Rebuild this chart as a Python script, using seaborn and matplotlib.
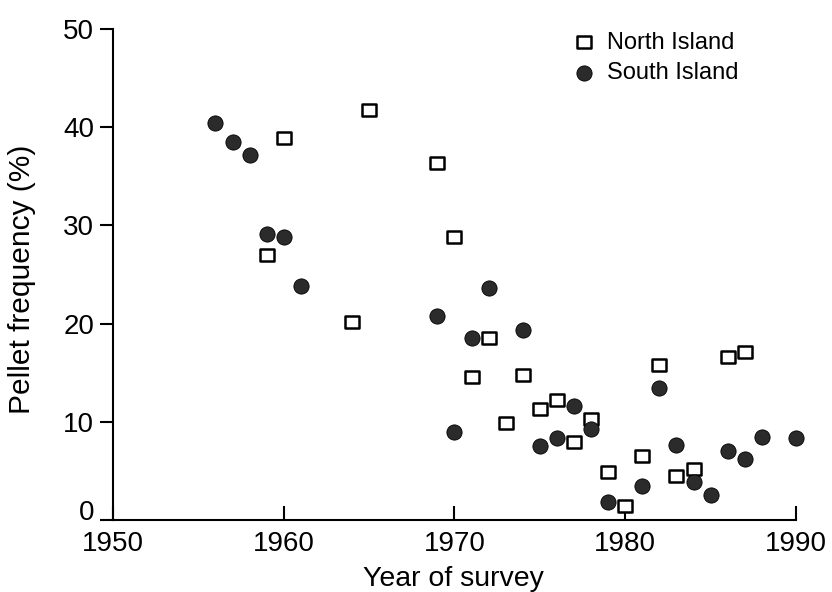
import matplotlib
matplotlib.use("Agg")
import matplotlib.pyplot as plt
from matplotlib.path import Path
import seaborn as sns
import pandas as pd

# ---- data ----
north_years = [1959, 1960, 1964, 1965, 1969, 1970, 1971, 1972, 1973, 1974, 1975,
               1976, 1977, 1978, 1979, 1980, 1981, 1982, 1983, 1984, 1986, 1987]
north_freq = [27.0, 38.9, 20.2, 41.8, 36.4, 28.8, 14.6, 18.5, 9.9, 14.8, 11.3,
              12.2, 7.9, 10.3, 4.9, 1.4, 6.5, 15.8, 4.5, 5.2, 16.6, 17.1]

south_years = [1956, 1957, 1958, 1959, 1960, 1961, 1969, 1970, 1971, 1972, 1974,
               1975, 1976, 1977, 1978, 1979, 1981, 1982, 1983, 1984, 1985, 1986,
               1987, 1988, 1990]
south_freq = [40.4, 38.5, 37.2, 29.1, 28.8, 23.8, 20.75, 9.0, 18.5, 23.6, 19.4,
              7.5, 8.4, 11.6, 9.3, 1.8, 3.5, 13.4, 7.6, 3.9, 2.5, 7.0,
              6.2, 8.5, 8.4]

x_ticks = [1950, 1960, 1970, 1980, 1990]
y_ticks = [0, 10, 20, 30, 40, 50]
series_names = ["North Island", "South Island"]

north = pd.DataFrame({"year": north_years, "freq": north_freq})
south = pd.DataFrame({"year": south_years, "freq": south_freq})

sns.set_theme(style="ticks")
plt.rcParams["font.family"] = ["Liberation Sans", "DejaVu Sans"]
for key in ["text.color", "axes.labelcolor", "xtick.color", "ytick.color",
            "axes.edgecolor"]:
    plt.rcParams[key] = "black"

fig = plt.figure(figsize=(8.32, 5.92), dpi=100)
ax = fig.add_axes([0.1358, 0.1216, 0.8209, 0.8294])

rect = Path([(-1.2, -1.0), (1.2, -1.0), (1.2, 1.0), (-1.2, 1.0), (-1.2, -1.0)],
            [Path.MOVETO, Path.LINETO, Path.LINETO, Path.LINETO, Path.CLOSEPOLY])

sns.scatterplot(data=north, x="year", y="freq", ax=ax, marker=rect, s=110,
                facecolor="white", edgecolor="black", linewidth=1.8,
                label=series_names[0], clip_on=False, zorder=3)
sns.scatterplot(data=south, x="year", y="freq", ax=ax, marker="o", s=120,
                color="#2b2b2b", edgecolor="black", linewidth=0.6,
                label=series_names[1], clip_on=False, zorder=3)

ax.set_xlim(1950, 1990)
ax.set_ylim(0, 50)
ax.set_xticks(x_ticks)
ax.set_yticks(y_ticks)

for side in ["top", "right"]:
    ax.spines[side].set_visible(False)
for side in ["left", "bottom"]:
    ax.spines[side].set_linewidth(1.5)
    ax.spines[side].set_color("black")

ax.tick_params(axis="x", direction="in", length=10, width=1.5, pad=8,
               labelsize=20)
ax.tick_params(axis="y", direction="out", length=9.5, width=1.5, pad=4,
               labelsize=20)

# the "0" label sits just above the bottom axis line
fig.canvas.draw()
for lab in ax.get_yticklabels():
    if lab.get_text() == "0":
        lab.set_va("baseline")

ax.set_xlabel("Year of survey", fontsize=20.5)
ax.set_ylabel("Pellet frequency (%)", fontsize=21.5)
ax.xaxis.set_label_coords(0.498, -0.094)
ax.yaxis.set_label_coords(-0.112, 0.491)

leg = ax.legend(loc="upper left", bbox_to_anchor=(0.651, 1.014), frameon=False,
                fontsize=17, handletextpad=0.3, handlelength=1.4,
                labelspacing=0.35, borderaxespad=0)

fig.savefig("out.png", dpi=100)
